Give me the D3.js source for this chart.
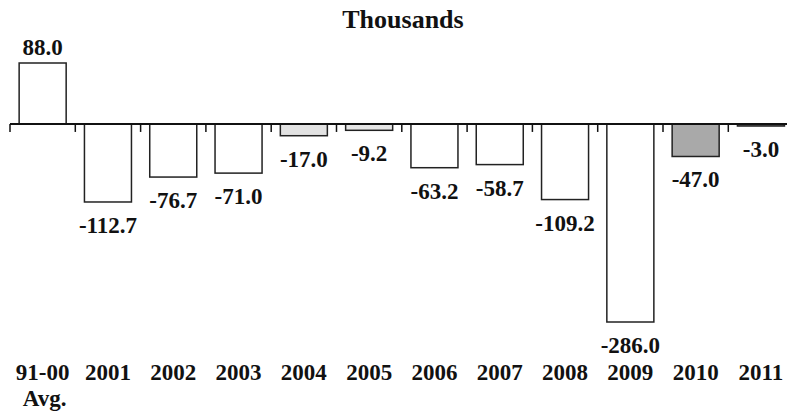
<!DOCTYPE html>
<html>
<head>
<meta charset="utf-8">
<script src="https://cdn.jsdelivr.net/npm/d3@7"></script>
<style>
  body { margin: 0; background: #fff; }
  text { font-family: "Liberation Serif", "Times New Roman", serif; font-weight: bold; fill: #111; }
</style>
</head>
<body>
<div id="chart"></div>
<script>
// data
var categories = ["91-00", "2001", "2002", "2003", "2004", "2005", "2006", "2007", "2008", "2009", "2010", "2011"];
var subLabels = ["Avg.", "", "", "", "", "", "", "", "", "", "", ""];
var values = [88.0, -112.7, -76.7, -71.0, -17.0, -9.2, -63.2, -58.7, -109.2, -286.0, -47.0, -3.0];
var fills = ["#fff", "#fff", "#fff", "#fff", "#e2e2e2", "#e6e6e6", "#fff", "#fff", "#fff", "#fff", "#a9a9a9", "#777"];

var width = 787, height = 412;

var svg = d3.select("#chart").append("svg")
    .attr("width", width)
    .attr("height", height);

// scales
var x = d3.scaleBand()
    .domain(categories)
    .range([10, 10 + 12 * 65.3])
    .paddingInner(0.28)
    .paddingOuter(0.14);

var y = d3.scaleLinear()
    .domain([-286, 88])
    .range([322, 63]);

// plain hyphen for negatives, like the original
var fmt = function(d) { return d3.format(".1f")(d).replace("\u2212", "-"); };

// title
svg.append("text")
    .attr("x", 403)
    .attr("y", 28)
    .attr("text-anchor", "middle")
    .style("font-size", "26px")
    .text("Thousands");

// bars
svg.selectAll("rect.bar")
    .data(values)
  .enter().append("rect")
    .attr("class", "bar")
    .attr("x", function(d, i) { return x(categories[i]); })
    .attr("width", x.bandwidth())
    .attr("y", function(d) { return y(Math.max(0, d)); })
    .attr("height", function(d) { return Math.abs(y(d) - y(0)); })
    .style("fill", function(d, i) { return fills[i]; })
    .style("stroke", "#222")
    .style("stroke-width", 1.5);

// zero axis line
svg.append("line")
    .attr("x1", 10)
    .attr("x2", width)
    .attr("y1", y(0))
    .attr("y2", y(0))
    .style("stroke", "#111")
    .style("stroke-width", 2);

// ticks at band boundaries
svg.selectAll("line.tick")
    .data(categories)
  .enter().append("line")
    .attr("class", "tick")
    .attr("x1", function(d) { return x(d) - x.step() * x.paddingOuter(); })
    .attr("x2", function(d) { return x(d) - x.step() * x.paddingOuter(); })
    .attr("y1", y(0))
    .attr("y2", y(0) + 8)
    .style("stroke", "#111")
    .style("stroke-width", 1.5);

// value labels
svg.selectAll("text.value")
    .data(values)
  .enter().append("text")
    .attr("class", "value")
    .attr("x", function(d, i) { return x(categories[i]) + x.bandwidth() / 2; })
    .attr("y", function(d) { return d >= 0 ? y(d) - 8 : y(d) + 31; })
    .attr("text-anchor", "middle")
    .style("font-size", "23px")
    .text(fmt);

// category labels
svg.selectAll("text.cat")
    .data(categories)
  .enter().append("text")
    .attr("class", "cat")
    .attr("x", function(d) { return x(d) + x.bandwidth() / 2; })
    .attr("y", 380)
    .attr("text-anchor", "middle")
    .style("font-size", "23px")
    .text(function(d) { return d; });

svg.selectAll("text.sub")
    .data(subLabels)
  .enter().append("text")
    .attr("class", "sub")
    .attr("x", function(d, i) { return x(categories[i]) + x.bandwidth() / 2 + 2; })
    .attr("y", 406)
    .attr("text-anchor", "middle")
    .style("font-size", "23px")
    .text(function(d) { return d; });
</script>
</body>
</html>
